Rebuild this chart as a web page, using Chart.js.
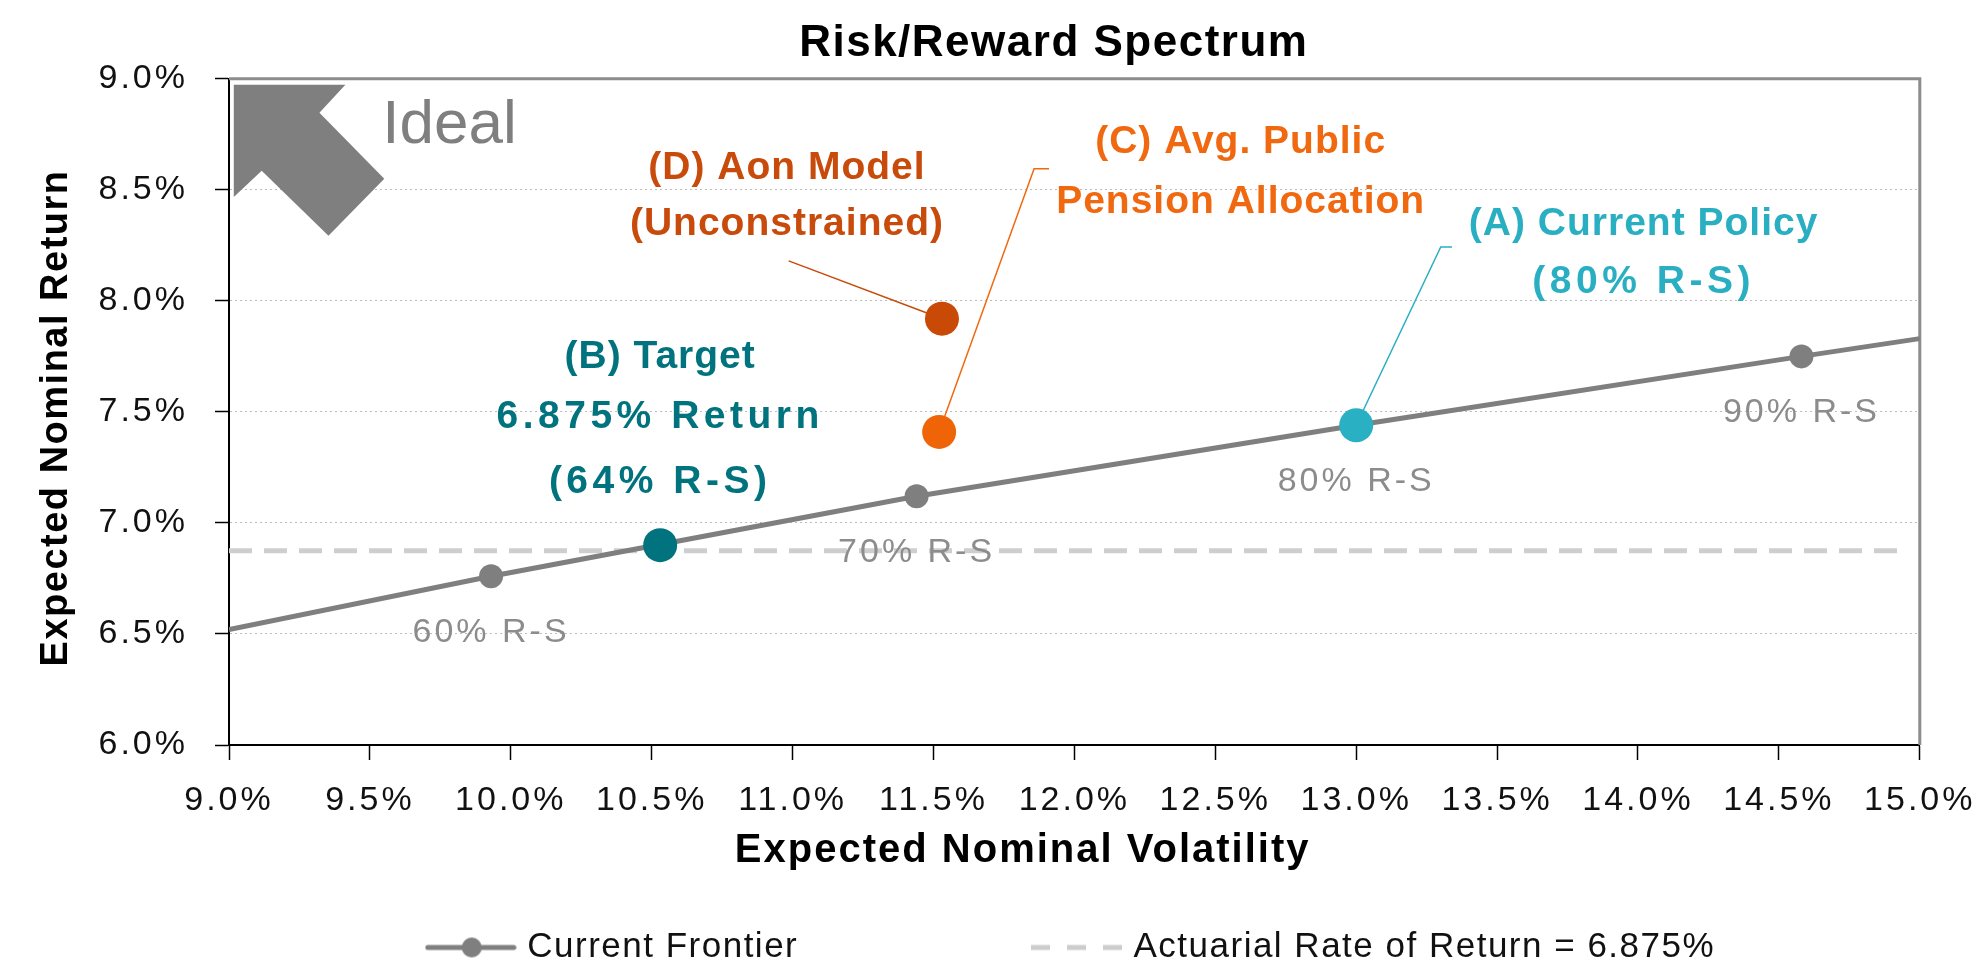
<!DOCTYPE html>
<html>
<head>
<meta charset="utf-8">
<title>Risk/Reward Spectrum</title>
<script src="https://cdn.jsdelivr.net/npm/chart.js@4/dist/chart.umd.min.js"></script>
<style>
  html, body { margin: 0; padding: 0; background: #fff; }
  #wrap { width: 1988px; height: 967px; }
</style>
</head>
<body>
<div id="wrap"><canvas id="riskChart"></canvas></div>
<script>
// ---- data -------------------------------------------------------------
// current efficient frontier (volatility %, return %)
const frontierVol = [9.0, 9.93, 11.44, 13.0, 14.58, 15.0];
const frontierRet = [6.52, 6.76, 7.12, 7.44, 7.75, 7.83];
const frontierLabels = ['', '60% R-S', '70% R-S', '80% R-S', '90% R-S', ''];

// highlighted portfolios
const portfolioNames = ['(A) Current Policy', '(B) Target', '(C) Avg. Public Pension Allocation', '(D) Aon Model (Unconstrained)'];
const portfolioLines = [
  ['(A) Current Policy', '(80% R-S)'],
  ['(B) Target', '6.875% Return', '(64% R-S)'],
  ['(C) Avg. Public', 'Pension Allocation'],
  ['(D) Aon Model', '(Unconstrained)']
];
const portfolioVol = [13.0, 10.53, 11.52, 11.53];
const portfolioRet = [7.44, 6.90, 7.41, 7.92];

const actuarialRate = 6.875;
const actuarialSpan = [9.0, 14.95];

const volTicks = [9.0, 9.5, 10.0, 10.5, 11.0, 11.5, 12.0, 12.5, 13.0, 13.5, 14.0, 14.5, 15.0];
const retTicks = [6.0, 6.5, 7.0, 7.5, 8.0, 8.5, 9.0];

// ---- styling ----------------------------------------------------------
const FONT = "'Liberation Sans', Arial, Helvetica, sans-serif";
const GRAY = '#7f7f7f';
const portfolioColors = ['#29b0c3', '#00737f', '#f06408', '#c84a06'];
const labelColors = ['#2aafc2', '#00737f', '#f0680f', '#c84b0b'];

// where the callout text sits (value coords) and the leader bends
const calloutPos = [
  { x: 14.02, y: [8.347, 8.086], leader: [[13.34, 8.243], [13.30, 8.243]] },
  { x: 10.53, y: [7.748, 7.477, 7.185], leader: null },
  { x: 12.59, y: [8.716, 8.446], leader: [[11.91, 8.595], [11.857, 8.595]] },
  { x: 10.98, y: [8.595, 8.347], leader: [[10.986, 8.18]] }
];
const idealArrow = [[9.017, 8.973], [9.413, 8.973], [9.321, 8.847], [9.551, 8.550],
                    [9.353, 8.293], [9.116, 8.586], [9.017, 8.468]];

function legendIcon(kind) {
  const c = document.createElement('canvas');
  c.width = 92; c.height = 26;
  const g = c.getContext('2d');
  if (kind === 'frontier') {
    g.strokeStyle = GRAY; g.lineWidth = 5; g.lineCap = 'round';
    g.beginPath(); g.moveTo(3, 13); g.lineTo(89, 13); g.stroke();
    g.fillStyle = GRAY;
    g.beginPath(); g.arc(47, 13, 10, 0, Math.PI * 2); g.fill();
  } else {
    g.strokeStyle = '#cccccc'; g.lineWidth = 5;
    g.setLineDash([19, 17]);
    g.beginPath(); g.moveTo(0, 13); g.lineTo(92, 13); g.stroke();
  }
  return c;
}
const legendIcons = { 1: legendIcon('frontier'), 2: legendIcon('dash') };
// trailing blanks only spread the two legend entries apart
const legendPad = { 1: ' '.repeat(21), 2: ' '.repeat(11) };

// ---- extra drawing: borders, arrow, callouts --------------------------
const decorations = {
  id: 'decorations',
  beforeDraw(chart) {
    chart.ctx.letterSpacing = '1.5px';
  },
  beforeDatasetsDraw(chart) {
    const { ctx, chartArea: a } = chart;
    ctx.save();
    ctx.strokeStyle = '#8c8c8c';
    ctx.lineWidth = 3;
    ctx.beginPath();
    ctx.moveTo(a.left, a.top);
    ctx.lineTo(a.right, a.top);
    ctx.lineTo(a.right, a.bottom);
    ctx.stroke();
    ctx.restore();
  },
  afterDatasetsDraw(chart) {
    // tick labels are drawn on top (ticks.z = 1) with wider tracking
    chart.ctx.letterSpacing = '3px';
  },
  afterDraw(chart) {
    const { ctx, chartArea: a } = chart;
    const xs = chart.scales.x, ys = chart.scales.y;
    const px = v => xs.getPixelForValue(v);
    const py = v => ys.getPixelForValue(v);

    ctx.save();
    ctx.letterSpacing = '0px';

    // "Ideal" arrow
    ctx.fillStyle = GRAY;
    ctx.beginPath();
    idealArrow.forEach(([x, y], i) => i ? ctx.lineTo(px(x), py(y)) : ctx.moveTo(px(x), py(y)));
    ctx.closePath();
    ctx.fill();
    ctx.font = `62px ${FONT}`;
    ctx.textAlign = 'left';
    ctx.textBaseline = 'alphabetic';
    ctx.fillText('Ideal', px(9.544), py(8.712));

    // frontier point labels
    const fMeta = chart.getDatasetMeta(1);
    ctx.letterSpacing = '3px';
    ctx.font = `34px ${FONT}`;
    ctx.fillStyle = '#8c8c8c';
    ctx.textAlign = 'center';
    ctx.textBaseline = 'middle';
    frontierLabels.forEach((t, i) => {
      if (!t) return;
      const p = fMeta.data[i];
      ctx.fillText(t, p.x, p.y + 56);
    });

    // callouts for highlighted portfolios
    const pMeta = chart.getDatasetMeta(0);
    ctx.font = `bold 39px ${FONT}`;
    calloutPos.forEach((c, i) => {
      ctx.fillStyle = labelColors[i];
      portfolioLines[i].forEach((t, j) => {
        ctx.letterSpacing = /\d/.test(t) ? '4.5px' : '1px';
        ctx.fillText(t, px(c.x), py(c.y[j]));
      });
      if (!c.leader) return;
      const pt = pMeta.data[i];
      const pts = c.leader.map(([x, y]) => [px(x), py(y)]);
      const [lx, ly] = pts[pts.length - 1];
      const d = Math.hypot(lx - pt.x, ly - pt.y);
      const r = 16;
      ctx.strokeStyle = labelColors[i];
      ctx.lineWidth = 1.5;
      ctx.beginPath();
      pts.forEach(([x, y], k) => k ? ctx.lineTo(x, y) : ctx.moveTo(x, y));
      ctx.lineTo(pt.x + (lx - pt.x) * r / d, pt.y + (ly - pt.y) * r / d);
      ctx.stroke();
    });

    // x axis title (sits a little left of the plot centre in the original)
    ctx.letterSpacing = '2px';
    ctx.fillStyle = '#000';
    ctx.font = `bold 40px ${FONT}`;
    ctx.textBaseline = 'alphabetic';
    ctx.fillText('Expected Nominal Volatility', a.left + 0.4694 * (a.right - a.left), a.bottom + 117);

    ctx.restore();
    ctx.letterSpacing = '0px';
  }
};

const pct = v => Number(v).toFixed(1) + '%';

new Chart(document.getElementById('riskChart'), {
  type: 'scatter',
  data: {
    datasets: [
      {
        label: 'Portfolios',
        data: portfolioVol.map((x, i) => ({ x, y: portfolioRet[i] })),
        pointRadius: 17,
        pointHoverRadius: 17,
        pointBackgroundColor: portfolioColors,
        pointBorderWidth: 0,
        showLine: false
      },
      {
        label: 'Current Frontier',
        data: frontierVol.map((x, i) => ({ x, y: frontierRet[i] })),
        showLine: true,
        borderColor: GRAY,
        borderWidth: 5,
        pointRadius: frontierLabels.map(t => t ? 12 : 0),
        pointHoverRadius: frontierLabels.map(t => t ? 12 : 0),
        pointBackgroundColor: GRAY,
        pointBorderWidth: 0,
        tension: 0
      },
      {
        label: 'Actuarial Rate of Return = 6.875%',
        data: actuarialSpan.map(x => ({ x, y: actuarialRate })),
        showLine: true,
        borderColor: '#cecece',
        borderWidth: 5,
        borderDash: [23, 12],
        pointRadius: 0,
        pointHoverRadius: 0
      }
    ]
  },
  options: {
    responsive: true,
    maintainAspectRatio: false,
    animation: false,
    events: [],
    layout: { padding: { left: 0, right: 59, top: 0, bottom: -8 } },
    scales: {
      x: {
        type: 'linear',
        min: 9.0,
        max: 15.0,
        afterBuildTicks: s => { s.ticks = volTicks.map(v => ({ value: v })); },
        afterFit: s => { s.height = 181; },
        grid: { drawOnChartArea: false, drawTicks: true, tickLength: 15, tickColor: '#000', tickWidth: 1.5 },
        border: { display: true, color: '#000', width: 2 },
        ticks: {
          z: 1,
          autoSkip: false,
          maxRotation: 0,
          padding: 20,
          color: '#111',
          font: { family: FONT, size: 34 },
          callback: pct
        }
      },
      y: {
        type: 'linear',
        min: 6.0,
        max: 9.0,
        afterBuildTicks: s => { s.ticks = retTicks.map(v => ({ value: v })); },
        afterFit: s => { s.width = 229; },
        grid: {
          color: c => (c.tick && (c.tick.value === 6 || c.tick.value === 9)) ? 'rgba(0,0,0,0)' : '#bdbdbd',
          lineWidth: 1,
          drawTicks: true,
          tickLength: 14,
          tickColor: '#000',
          tickWidth: 1.5
        },
        border: { display: true, color: '#000', width: 2, dash: [2, 3] },
        ticks: {
          z: 1,
          padding: 27,
          color: '#111',
          font: { family: FONT, size: 34 },
          callback: pct
        },
        title: {
          display: true,
          text: 'Expected Nominal Return ',
          color: '#000',
          font: { family: FONT, size: 38, weight: 'bold' },
          padding: { top: 34, bottom: 0 }
        }
      }
    },
    plugins: {
      title: {
        display: true,
        text: 'Risk/Reward Spectrum   ',
        fullSize: false,
        color: '#000',
        font: { family: FONT, size: 44, weight: 'bold' },
        padding: { top: 17, bottom: 9 }
      },
      legend: {
        position: 'bottom',
        fullSize: false,
        labels: {
          usePointStyle: true,
          pointStyleWidth: 78,
          padding: 4,
          color: '#111',
          font: { family: FONT, size: 35 },
          filter: item => item.datasetIndex > 0,
          generateLabels: chart => Chart.defaults.plugins.legend.labels.generateLabels(chart)
            .map(it => Object.assign(it, {
              pointStyle: legendIcons[it.datasetIndex] || it.pointStyle,
              text: it.text + (legendPad[it.datasetIndex] || '')
            }))
        }
      },
      tooltip: { enabled: false }
    }
  },
  plugins: [decorations]
});
</script>
</body>
</html>
